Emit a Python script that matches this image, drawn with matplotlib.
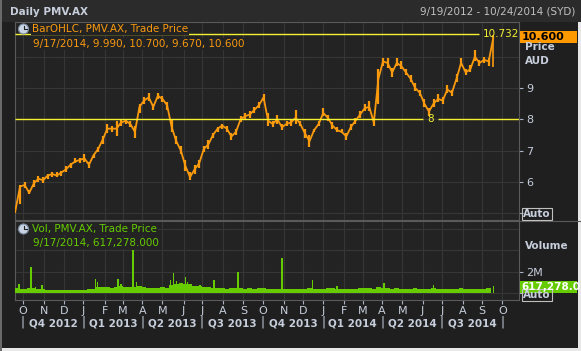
import matplotlib.pyplot as plt
import matplotlib.patches as mpatches
from matplotlib.transforms import blended_transform_factory
import numpy as np
import pandas as pd

W, H = 581, 351

# weekly low/high of the price bars (every 5 trading days from 19-Sep-2012)
price_low = [5.0, 5.3, 5.8, 5.6, 5.85, 6.0, 5.95, 6.1, 6.15, 6.15,
             6.2, 6.3, 6.45, 6.6, 6.6, 6.65, 6.45, 6.75, 6.95, 7.2,
             7.55, 7.6, 7.45, 7.8, 7.85, 7.75, 7.4, 8.2, 8.5, 8.6,
             8.3, 8.65, 8.55, 8.3, 7.6, 7.2, 6.9, 6.35, 6.05, 6.25,
             6.45, 6.95, 7.05, 7.4, 7.6, 7.7, 7.6, 7.35, 7.5, 7.9,
             8.0, 8.05, 8.2, 8.35, 8.6, 7.8, 7.75, 7.85, 7.65, 7.8,
             7.8, 7.85, 7.8, 7.4, 7.1, 7.6, 7.8, 8.1, 7.95, 7.7,
             7.6, 7.55, 7.35, 7.65, 7.85, 8.05, 8.25, 8.25, 7.8, 8.5,
             9.7, 9.65, 9.35, 9.7, 9.6, 9.4, 9.2, 8.9, 8.75, 8.4,
             8.1, 8.4, 8.55, 8.5, 8.85, 8.75, 9.2, 9.7, 9.4, 9.5,
             9.85, 9.7, 9.8, 9.7]
price_high = [5.2, 5.9, 6.0, 5.75, 6.05, 6.2, 6.15, 6.25, 6.3, 6.3,
              6.35, 6.5, 6.6, 6.75, 6.75, 6.9, 6.65, 6.9, 7.1, 7.45,
              7.85, 7.8, 7.95, 8.0, 8.0, 7.95, 7.8, 8.5, 8.7, 8.85,
              8.5, 8.85, 8.75, 8.55, 8.0, 7.45, 7.15, 6.7, 6.3, 6.55,
              6.7, 7.15, 7.35, 7.55, 7.75, 7.85, 7.8, 7.55, 7.7, 8.1,
              8.2, 8.25, 8.4, 8.55, 8.8, 8.2, 7.95, 8.15, 7.85, 7.95,
              8.0, 8.3, 7.95, 7.7, 7.5, 7.7, 7.95, 8.35, 8.15, 7.9,
              7.75, 7.7, 7.55, 7.85, 8.05, 8.25, 8.5, 8.6, 8.05, 9.6,
              9.95, 9.95, 9.65, 9.95, 9.85, 9.6, 9.4, 9.15, 8.95, 8.65,
              8.35, 8.65, 8.8, 8.7, 9.1, 8.95, 9.45, 9.95, 9.6, 9.75,
              10.2, 9.9, 10.0, 9.95]
# weekly close
price_close = [5.1, 5.85, 5.9, 5.65, 5.95, 6.1, 6.05, 6.2, 6.25, 6.2,
               6.3, 6.4, 6.55, 6.65, 6.7, 6.75, 6.55, 6.85, 7.05, 7.35,
               7.7, 7.7, 7.7, 7.9, 7.95, 7.85, 7.6, 8.4, 8.6, 8.7,
               8.4, 8.75, 8.65, 8.45, 7.75, 7.3, 7.0, 6.5, 6.15, 6.4,
               6.6, 7.05, 7.2, 7.5, 7.7, 7.8, 7.7, 7.45, 7.6, 8.0,
               8.1, 8.15, 8.3, 8.45, 8.7, 7.95, 7.85, 8.0, 7.75, 7.85,
               7.9, 8.05, 7.85, 7.55, 7.3, 7.65, 7.85, 8.2, 8.05, 7.8,
               7.65, 7.6, 7.45, 7.75, 7.95, 8.15, 8.35, 8.4, 7.9, 9.3,
               9.85, 9.8, 9.5, 9.8, 9.7, 9.5, 9.3, 9.0, 8.85, 8.5,
               8.25, 8.5, 8.65, 8.6, 8.95, 8.85, 9.3, 9.8, 9.5, 9.6,
               10.0, 9.8, 9.9, 9.85]
last_ohlc = [9.990, 10.700, 9.670, 10.600]   # 9/17/2014
max_line = 10.732
level_line = 8

# weekly volume band (millions) and single-day spikes
vol_weekly = [0.45, 0.35, 0.4, 0.45, 0.45, 0.35, 0.35, 0.3,
              0.25, 0.25, 0.3, 0.25, 0.3, 0.25, 0.3, 0.3, 0.35, 0.4,
              0.55, 0.6, 0.55, 0.5, 0.6, 0.7, 0.6, 0.55, 0.6, 0.7, 0.55, 0.5, 0.45, 0.5, 0.55, 0.5,
              0.75, 0.8, 0.9, 0.85, 0.8, 0.7, 0.65, 0.6, 0.55, 0.5,
              0.45, 0.5, 0.4, 0.45, 0.5, 0.45, 0.4, 0.45, 0.4, 0.5, 0.45, 0.4, 0.35, 0.4, 0.4, 0.35,
              0.35, 0.4, 0.35, 0.4, 0.45, 0.4, 0.35, 0.4, 0.5, 0.45, 0.4, 0.35, 0.4, 0.35, 0.4,
              0.45, 0.5, 0.45, 0.4, 0.55, 0.5, 0.45, 0.4, 0.45, 0.4, 0.35, 0.4, 0.45, 0.4,
              0.35, 0.4, 0.45, 0.4, 0.35, 0.4, 0.35, 0.4, 0.45, 0.4, 0.35, 0.4, 0.35, 0.4, 0.45]
spike_day = [4, 17, 22, 29, 87, 89, 111, 112, 115, 128, 132, 169, 172, 175,
             185, 187, 201, 216, 242, 290, 323, 350, 401, 455, 520]
spike_vol = [0.8, 2.45, 0.6, 0.75, 1.3, 1.05, 1.35, 1.35, 0.85, 4.0, 1.05, 1.2, 1.85, 1.1,
             1.5, 1.05, 0.75, 1.2, 2.0, 3.25, 1.2, 0.7, 0.95, 0.75, 0.617278]

days = pd.bdate_range('2012-09-19', '2014-10-24')
week_x = np.arange(len(price_low)) * 5
last_x = 520

ORANGE = '#f99a0e'
GREEN = '#66cc00'
YELLOW = '#f4f032'
TXT = '#c6cedb'
BG = '#232323'
GRID = '#363636'


def fx(x):
    return x / W


def fy(y):
    return 1 - y / H


def rect(x0, y0, w, h, color):
    fig.add_artist(mpatches.Rectangle((fx(x0), fy(y0 + h)), w / W, h / H, transform=fig.transFigure,
                                      facecolor=color, edgecolor='none'))


fig = plt.figure(figsize=(W / 100, H / 100), dpi=100, facecolor='#1f1f1f')
rect(0, 0, W, 22, '#2b2b2b')
rect(0, 348, W, 3, '#e8e8e8')
rect(578, 22, 3, 329, '#e8e8e8')
rect(0, 0, 1.5, H, '#6a6a6a')

ax = fig.add_axes([fx(15), fy(220), fx(504), 198 / H], facecolor=BG)
axv = fig.add_axes([fx(15), fy(300), fx(504), 79 / H], facecolor=BG, sharex=ax)

month_starts = pd.date_range('2012-10-01', '2014-10-01', freq='MS')
month_pos = days.searchsorted(month_starts)
for a in (ax, axv):
    a.set_xlim(-0.5, 548)
    a.set_xticks(month_pos)
    a.grid(True, color=GRID, lw=0.8)
    a.set_axisbelow(True)
    for s in a.spines.values():
        s.set_color('#5a5a5a')
        s.set_linewidth(0.8)
    a.yaxis.tick_right()
    a.tick_params(axis='y', colors='#aab2bf', labelcolor=TXT, labelsize=8, length=3, pad=2)

# price panel
ax.set_ylim(4.78, 11.11)
ax.set_yticks([5, 6, 7, 8, 9])
ax.set_yticklabels(['', '6', '7', '8', '9'])
ax.axhline(10, color=GRID, lw=0.8, zorder=0)
ax.tick_params(axis='x', length=0, labelbottom=False)
ax.plot(np.append(week_x, last_x), np.append(price_close, last_ohlc[3]), color=ORANGE, lw=1.3, zorder=3)
ax.vlines(week_x, price_low, price_high, color=ORANGE, lw=1.6, zorder=3)
ax.vlines(last_x, last_ohlc[2], last_ohlc[1], color=ORANGE, lw=1.2, zorder=3)

ax.hlines(max_line, -0.5, 505, color=YELLOW, lw=1, zorder=4)
ax.text(509, max_line, '%.3f' % max_line, color=YELLOW, fontsize=7.5, va='center', ha='left', zorder=5)
ax.hlines(level_line, -0.5, 443, color=YELLOW, lw=1, zorder=4)
ax.hlines(level_line, 460, 548, color=YELLOW, lw=1, zorder=4)
ax.text(451.5, level_line, '%d' % level_line, color=YELLOW, fontsize=7.5, va='center', ha='center', zorder=5)

# volume panel
axv.set_ylim(-0.66, 6.75)
axv.set_yticks([0, 2])
axv.set_yticklabels(['', '2M'])
for lv in (4, 6):
    axv.axhline(lv, color=GRID, lw=0.8, zorder=0)
axv.bar(week_x, vol_weekly, width=5, color=GREEN, lw=0, zorder=3)
axv.bar(spike_day, spike_vol, width=1.6, color=GREEN, lw=0, zorder=3)
axv.set_xticklabels([d.strftime('%b')[0] for d in month_starts])
axv.tick_params(axis='x', colors='#aab2bf', labelcolor=TXT, labelsize=8, length=3, pad=1.5)

# quarter row
qtrans = blended_transform_factory(axv.transData, fig.transFigure)
q_starts = pd.date_range('2012-10-01', '2014-10-01', freq='QS-OCT')
q_pos = days.searchsorted(q_starts)
for p in q_pos:
    axv.text(p, fy(322), '|', transform=qtrans, color=TXT, fontsize=8.5, ha='center', va='center', clip_on=False)
for p0, p1, d in zip(q_pos[:-1], q_pos[1:], q_starts[:-1]):
    axv.text((p0 + p1) / 2, fy(323), 'Q%d %d' % ((d.month - 1) // 3 + 1, d.year), transform=qtrans,
             color=TXT, fontsize=7.5, fontweight='bold', ha='center', va='center', clip_on=False)

# header
fig.text(fx(10), fy(12), 'Daily PMV.AX', color=TXT, fontsize=7.5, fontweight='bold', va='center')
fig.text(fx(575), fy(12), '9/19/2012 - 10/24/2014 (SYD)', color='#c0c0c0', fontsize=7.5, va='center', ha='right')

# legends
boxbg = dict(facecolor=BG, edgecolor='none', pad=0.5)
fig.text(fx(32), fy(29), 'BarOHLC, PMV.AX, Trade Price', color=ORANGE, fontsize=7.5, va='center', bbox=boxbg)
fig.text(fx(33), fy(44), '9/17/2014, %.3f, %.3f, %.3f, %.3f' % tuple(last_ohlc), color=ORANGE,
         fontsize=7.5, va='center', bbox=boxbg)
fig.text(fx(32), fy(229), 'Vol, PMV.AX, Trade Price', color=GREEN, fontsize=7.5, va='center', bbox=boxbg)
fig.text(fx(33), fy(243), '9/17/2014, {:,.3f}'.format(spike_vol[-1] * 1e6), color=GREEN,
         fontsize=7.5, va='center', bbox=boxbg)
for cy in (29, 229):
    fig.add_artist(mpatches.Ellipse((fx(23.5), fy(cy)), 10 / W, 10 / H, transform=fig.transFigure,
                                    facecolor='#c8d4e4', edgecolor='#7a8aa0', lw=0.8))
    fig.add_artist(plt.Line2D([fx(23.5), fx(23.5), fx(27)], [fy(cy - 3), fy(cy), fy(cy)],
                              transform=fig.transFigure, color='#202020', lw=0.8))

# right side labels
fig.text(fx(525), fy(47), 'Price', color=TXT, fontsize=7.5, fontweight='bold', va='center')
fig.text(fx(525), fy(61), 'AUD', color=TXT, fontsize=7.5, fontweight='bold', va='center')
rect(520, 31, 57, 12, '#ff9900')
fig.text(fx(522), fy(37), '%.3f' % last_ohlc[3], color='black', fontsize=8, fontweight='bold', va='center')
fig.text(fx(525), fy(246), 'Volume', color=TXT, fontsize=7.5, fontweight='bold', va='center')
fig.text(fx(523), fy(214), 'Auto', color=TXT, fontsize=7.5, fontweight='bold', va='center',
         bbox=dict(facecolor='none', edgecolor='#c0c0c0', pad=0.8, lw=0.8))
fig.text(fx(523), fy(295), 'Auto', color=TXT, fontsize=7.5, fontweight='bold', va='center',
         bbox=dict(facecolor='none', edgecolor='#c0c0c0', pad=0.8, lw=0.8))
rect(520, 281, 57, 12, GREEN)
fig.text(fx(521), fy(287), '{:,.2f}'.format(spike_vol[-1] * 1e6)[:9], color='white', fontsize=7.5,
         fontweight='bold', va='center')
fig.add_artist(plt.Line2D([fx(519), 1], [fy(221), fy(221)], transform=fig.transFigure, color='#5a5a5a', lw=0.8))

fig.savefig('out.png', dpi=100, facecolor=fig.get_facecolor())
